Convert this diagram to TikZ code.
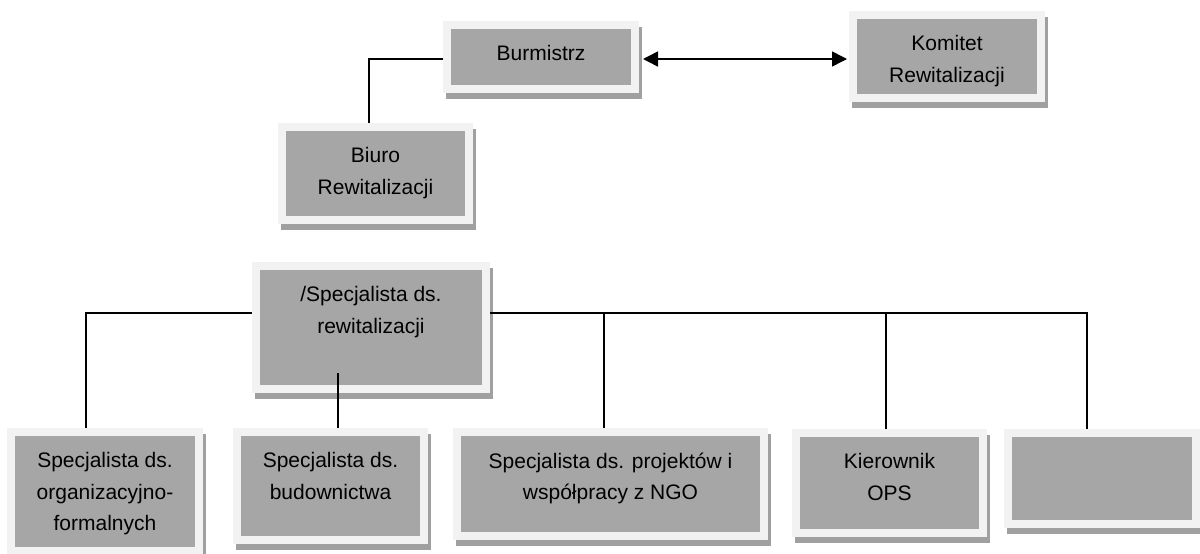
\documentclass[tikz,border=0pt]{standalone}
\usepackage{fontspec}
\setmainfont{Liberation Sans}
\usetikzlibrary{arrows.meta,shadows}
\definecolor{ramka}{HTML}{F2F2F2}
\definecolor{szary}{HTML}{A6A6A6}
\definecolor{cien}{HTML}{A0A0A0}
\tikzset{
  pole/.style={fill=ramka, inner sep=0pt, outer sep=0pt,
    drop shadow={shadow xshift=2.5pt, shadow yshift=-5.5pt, fill=cien, opacity=1},
    path picture={\fill[szary] ([xshift=8pt,yshift=-8pt]path picture bounding box.north west) rectangle ([xshift=-8pt,yshift=8pt]path picture bounding box.south east);}},
  opis/.style={anchor=north, yshift=-24.5pt, align=center, inner sep=0pt, font=\fontsize{21}{31.5}\selectfont},
  linia/.style={line width=1.2pt},
  strzalka/.style={line width=1.5pt, {Triangle[length=15pt,width=15pt]}-{Triangle[length=15pt,width=15pt]}}
}
\begin{document}
\begin{tikzpicture}[x=1pt,y=-1pt]
			\useasboundingbox (0,0) rectangle (1200,554);
			% gora
			\node[pole, minimum width=196pt, minimum height=72pt, label={[opis]north:{Burmistrz}}] (bur) at (541,57) {};
			\node[pole, minimum width=196pt, minimum height=91pt, label={[opis]north:{Komitet\\Rewitalizacji}}] (kom) at (947,56.5) {};
			\node[pole, minimum width=195pt, minimum height=101pt, label={[opis]north:{Biuro\\Rewitalizacji}}] (biu) at (375.5,173.5) {};
			\node[pole, minimum width=238pt, minimum height=131pt, label={[opis]north:{/Specjalista ds.\\rewitalizacji}}] (rew) at (371,327.5) {};
			% dol
			\node[pole, minimum width=196pt, minimum height=127pt, label={[opis]north:{Specjalista ds.\\organizacyjno-\\formalnych}}] (org) at (105,491.5) {};
			\node[pole, minimum width=195pt, minimum height=116pt, label={[opis]north:{Specjalista ds.\\budownictwa}}] (bud) at (330.5,486) {};
			\node[pole, minimum width=315pt, minimum height=112pt, label={[opis]north:{Specjalista ds. projektów i\\współpracy z NGO}}] (ngo) at (610.5,484) {};
			\node[pole, minimum width=195pt, minimum height=108pt, label={[opis]north:{Kierownik\\OPS}}] (kie) at (889.5,483) {};
			\node[pole, minimum width=196pt, minimum height=99pt] (pus) at (1102,478.5) {};
			% polaczenia
			\draw[strzalka, shorten <=4pt, shorten >=2pt]([yshift=-2pt]bur.east)--([yshift=-2pt]bur.east -| kom.west);
			\draw[linia]([yshift=-2pt]bur.west) -| ([xshift=-6.5pt]biu.north);
			\coordinate (szynaL) at (86,313);
			\coordinate (szynaP) at (1087,313);
			\coordinate (rewin) at (338,373);
			\draw[linia](org.north -| szynaL) |- (rew.west |- szynaL);
			\draw[linia](rew.east |- szynaP)--(szynaP)--(pus.north -| szynaP);
			\draw[linia]([xshift=-6.5pt]ngo.north)--([xshift=-6.5pt]ngo.north |- szynaP);
			\draw[linia]([xshift=-3.5pt]kie.north)--([xshift=-3.5pt]kie.north |- szynaP);
			\draw[linia](rewin)--(rewin |- bud.north);
			\end{tikzpicture}
\end{document}
